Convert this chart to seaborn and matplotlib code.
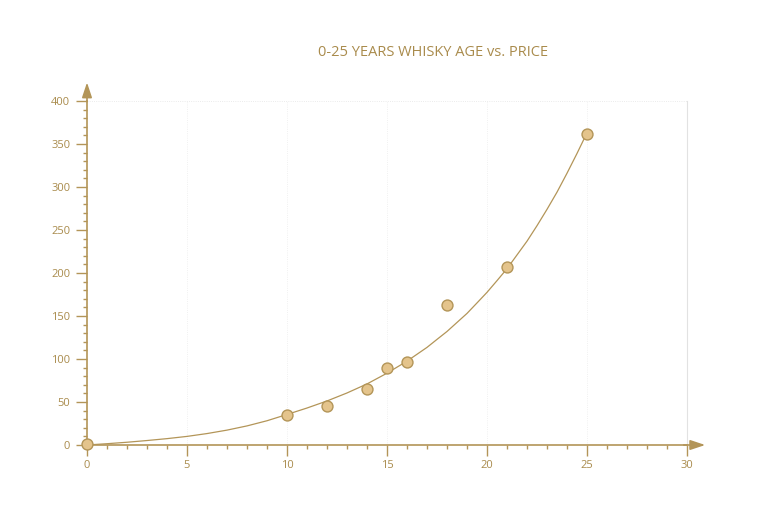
import numpy as np
import pandas as pd
import seaborn as sb
from matplotlib import pyplot as plt
from matplotlib.ticker import MultipleLocator

# whisky age (years) vs price
age = [0, 10, 12, 14, 15, 16, 18, 21, 25]
price = [1, 35, 45, 65, 90, 97, 163, 207, 362]

# trend curve
curve_age = [0, 1, 2, 3, 4, 5, 6, 7, 8, 9, 10, 11, 12, 13, 14, 15, 15.5, 16,
             16.5, 17, 17.5, 18, 18.5, 19, 19.5, 20, 20.5, 21, 21.5, 22, 22.5,
             23, 23.5, 24, 24.5, 25]
curve_price = [0, 1.5, 3.2, 5.2, 7.4, 10.0, 13.3, 17.3, 22.2, 28.2, 35.5,
               43.0, 51.2, 60.5, 71.0, 83.5, 90.5, 97.5, 105.5, 113.5, 122.8,
               132.0, 142.5, 153.0, 165.2, 177.5, 191.1, 205.0, 221.0, 237.0,
               255.0, 274.0, 294.0, 316.0, 339.0, 363.0]

GOLD = "#b39558"
LABEL = "#a98b4c"
FILL = "#e4c48c"

sb.set_style("white")
plt.rcParams["font.family"] = ["Open Sans", "DejaVu Sans"]

fig = plt.figure(figsize=(7.58, 5.16), dpi=100)
ax = fig.add_axes([87 / 758, 71 / 516, 600 / 758, 344 / 516])

df_pts = pd.DataFrame({"age": age, "price": price})
df_curve = pd.DataFrame({"age": curve_age, "price": curve_price})

sb.lineplot(data=df_curve, x="age", y="price", ax=ax, color=GOLD, lw=0.9, zorder=3)
sb.scatterplot(data=df_pts, x="age", y="price", ax=ax, s=62, color=FILL,
               edgecolor=GOLD, linewidth=1.0, zorder=4, clip_on=False)

ax.set_xlim(0, 30)
ax.set_ylim(0, 400)

# faint grid like the original
for xv in [5, 10, 15, 20, 25]:
    ax.axvline(xv, color="#ececec", lw=0.6, ls=":", zorder=0)
ax.axhline(400, color="#e4e4e4", lw=0.6, ls=":", zorder=0)

ax.spines["top"].set_visible(False)
ax.spines["right"].set_color("#e2e2e2")
ax.spines["right"].set_linewidth(0.8)
for side in ["left", "bottom"]:
    ax.spines[side].set_color(GOLD)
    ax.spines[side].set_linewidth(1.2)

ax.xaxis.set_major_locator(MultipleLocator(5))
ax.xaxis.set_minor_locator(MultipleLocator(1))
ax.yaxis.set_major_locator(MultipleLocator(50))
ax.yaxis.set_minor_locator(MultipleLocator(10))
ax.tick_params(axis="both", which="major", direction="out", length=8, width=1,
               color=GOLD, labelcolor=LABEL, labelsize=8)
ax.tick_params(axis="x", which="major", pad=3)
ax.tick_params(axis="y", which="major", pad=4)
ax.tick_params(axis="both", which="minor", direction="out", length=3, width=1,
               color=GOLD)
ax.tick_params(left=True, bottom=True, which="both")

ax.set_xlabel("")
ax.set_ylabel("")

# arrow heads on both axes
ax.annotate("", xy=(1.035, 0), xytext=(0.99, 0), xycoords="axes fraction",
            arrowprops=dict(arrowstyle="-|>,head_length=0.9,head_width=0.3",
                            color=GOLD, lw=1.2), annotation_clip=False)
ax.annotate("", xy=(0, 1.062), xytext=(0, 0.99), xycoords="axes fraction",
            arrowprops=dict(arrowstyle="-|>,head_length=0.9,head_width=0.3",
                            color=GOLD, lw=1.2), annotation_clip=False)

fig.text(433 / 758, 1 - 53 / 516, "0-25 YEARS WHISKY AGE vs. PRICE",
         ha="center", va="center", fontsize=10.5, color=LABEL)

fig.savefig("out.png", dpi=100)
plt.close()
